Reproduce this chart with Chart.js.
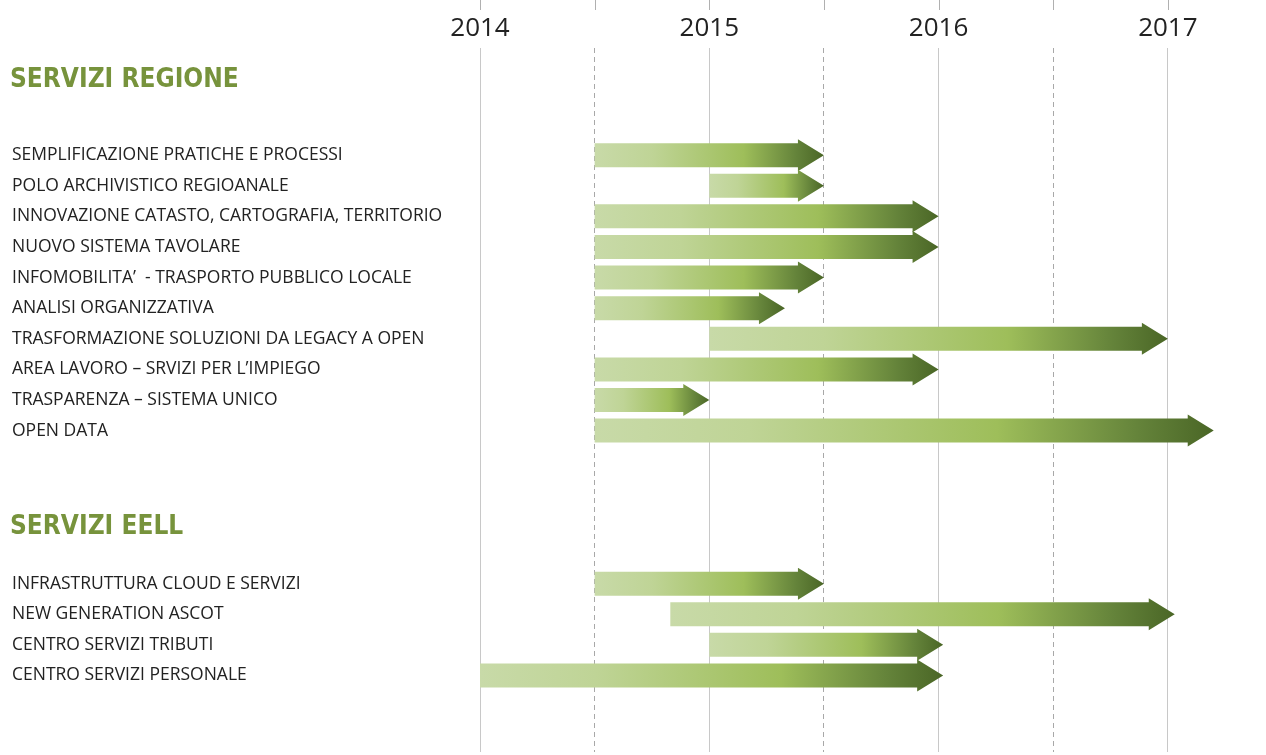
<!DOCTYPE html>
<html>
<head>
<meta charset="utf-8">
<script src="https://cdn.jsdelivr.net/npm/chart.js@4/dist/chart.umd.min.js"></script>
<style>
body{margin:0;background:#fff;}
</style>
</head>
<body>
<canvas id="gantt" width="1266" height="755"></canvas>
<script>
// righe del diagramma (le vuote fanno spazio ai titoli)
var rowLabels = ["", "", "",
    "SEMPLIFICAZIONE PRATICHE E PROCESSI",
    "POLO ARCHIVISTICO REGIOANALE",
    "INNOVAZIONE CATASTO, CARTOGRAFIA, TERRITORIO",
    "NUOVO SISTEMA TAVOLARE",
    "INFOMOBILITA’  - TRASPORTO PUBBLICO LOCALE",
    "ANALISI ORGANIZZATIVA",
    "TRASFORMAZIONE SOLUZIONI DA LEGACY A OPEN",
    "AREA LAVORO – SRVIZI PER L’IMPIEGO",
    "TRASPARENZA – SISTEMA UNICO",
    "OPEN DATA",
    "", "", "", "",
    "INFRASTRUTTURA CLOUD E SERVIZI",
    "NEW GENERATION ASCOT",
    "CENTRO SERVIZI TRIBUTI",
    "CENTRO SERVIZI PERSONALE",
    "", ""];
var startYears = [null, null, null,
    2014.5, 2015, 2014.5, 2014.5, 2014.5, 2014.5, 2015, 2014.5, 2014.5, 2014.5,
    null, null, null, null,
    2014.5, 2014.83, 2015, 2014,
    null, null];
var endYears = [null, null, null,
    2015.5, 2015.5, 2016, 2016, 2015.5, 2015.33, 2017, 2016, 2015, 2017.2,
    null, null, null, null,
    2015.5, 2017.03, 2016.02, 2016.02,
    null, null];
var yearTicks = [2014, 2015, 2016, 2017];
var groupTitles = ["SERVIZI REGIONE", "SERVIZI EELL"];
var groupRows = [0.54, 15.17];

var spans = [];
for (var i = 0; i < rowLabels.length; i++) {
    spans.push(startYears[i] == null ? null : [startYears[i], endYears[i]]);
}

var textFont = '"Open Sans", "Noto Sans", sans-serif';
var titleFont = '"DejaVu Sans Condensed", "Liberation Sans Narrow", "Noto Sans", sans-serif';

// frecce sfumate al posto delle barre
var arrowPlugin = {
    id: 'arrows',
    afterDatasetsDraw: function(chart) {
        var ctx = chart.ctx;
        var meta = chart.getDatasetMeta(0);
        ctx.save();
        meta.data.forEach(function(bar, i) {
            if (spans[i] == null) return;
            var p = bar.getProps(['x', 'y', 'base', 'height'], true);
            var x0 = Math.min(p.base, p.x), x1 = Math.max(p.base, p.x);
            var h = p.height, y = p.y;
            var head = 26, flare = 4;
            var g = ctx.createLinearGradient(x0, 0, x1, 0);
            g.addColorStop(0, '#c8daa8');
            g.addColorStop(0.25, '#bfd496');
            g.addColorStop(0.65, '#9ebe5a');
            g.addColorStop(0.88, '#64833a');
            g.addColorStop(1, '#4a6626');
            ctx.beginPath();
            ctx.moveTo(x0, y - h / 2);
            ctx.lineTo(x1 - head, y - h / 2);
            ctx.lineTo(x1 - head, y - h / 2 - flare);
            ctx.lineTo(x1, y);
            ctx.lineTo(x1 - head, y + h / 2 + flare);
            ctx.lineTo(x1 - head, y + h / 2);
            ctx.lineTo(x0, y + h / 2);
            ctx.closePath();
            ctx.fillStyle = g;
            ctx.fill();
        });
        ctx.restore();
    }
};

// titoli dei gruppi e tacche in alto
var extrasPlugin = {
    id: 'extras',
    afterDraw: function(chart) {
        var ctx = chart.ctx;
        var ys = chart.scales.y, xs = chart.scales.x;
        ctx.save();
        ctx.font = 'bold 26px ' + titleFont;
        ctx.fillStyle = '#77933c';
        ctx.textBaseline = 'middle';
        ctx.textAlign = 'left';
        groupTitles.forEach(function(t, k) {
            ctx.fillText(t, 10, ys.getPixelForValue(groupRows[k]));
        });
        ctx.strokeStyle = '#b0b0b0';
        ctx.lineWidth = 1;
        xs.ticks.forEach(function(t) {
            var px = Math.round(xs.getPixelForValue(t.value)) + 0.5;
            ctx.beginPath();
            ctx.moveTo(px, 0);
            ctx.lineTo(px, 10);
            ctx.stroke();
        });
        ctx.restore();
    }
};

new Chart(document.getElementById('gantt'), {
    type: 'bar',
    data: {
        labels: rowLabels,
        datasets: [{
            data: spans,
            backgroundColor: 'rgba(0,0,0,0)',
            barThickness: 24
        }]
    },
    options: {
        indexAxis: 'y',
        responsive: false,
        animation: false,
        devicePixelRatio: 1,
        layout: { padding: { left: 12, right: 11, top: 0, bottom: 3 } },
        plugins: { legend: { display: false }, tooltip: { enabled: false } },
        scales: {
            x: {
                position: 'top',
                min: 2014,
                max: 2017.38,
                afterFit: function(s) { s.height = 48; },
                ticks: {
                    stepSize: 0.5,
                    includeBounds: false,
                    padding: 4,
                    color: '#222',
                    font: { family: textFont, size: 26 },
                    callback: function(v) { return yearTicks.indexOf(v) >= 0 ? String(v) : ''; }
                },
                grid: {
                    drawTicks: false,
                    color: function(c) { return c.tick && c.tick.value % 1 !== 0 ? '#a8a8a8' : '#c8c8c8'; }
                },
                border: {
                    display: false,
                    dash: function(c) { return c.tick && c.tick.value % 1 !== 0 ? [5, 4] : []; }
                }
            },
            y: {
                afterFit: function(s) {
                    s.width = 468;
                    s.paddingTop = 0;
                    s.paddingBottom = 0;
                },
                grid: { display: false },
                border: { display: false },
                ticks: {
                    autoSkip: false,
                    crossAlign: 'far',
                    color: '#222',
                    font: { family: textFont, size: 17.5 }
                }
            }
        }
    },
    plugins: [arrowPlugin, extrasPlugin]
});
</script>
</body>
</html>
